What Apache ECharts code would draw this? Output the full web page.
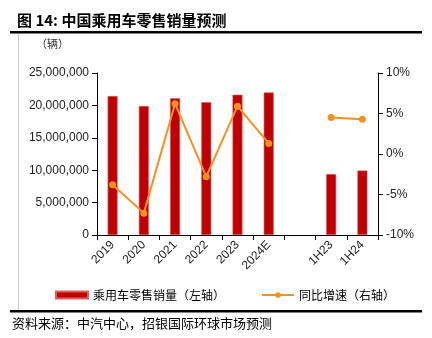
<!DOCTYPE html>
<html><head><meta charset="utf-8">
<script src="https://cdn.jsdelivr.net/npm/echarts@6/dist/echarts.min.js"></script>
<style>html,body{margin:0;padding:0;background:#fff}#c{width:432px;height:338px}</style>
</head><body><div id="c"></div>
<script>
const categories = ['2019','2020','2021','2022','2023','2024E','','1H23','1H24'];
const salesVolume = [21450000, 19900000, 21100000, 20500000, 21650000, 22000000, null, 9400000, 9950000];
const yoyGrowth = [-3.8, -7.3, 6.2, -2.8, 5.9, 1.3, null, 4.5, 4.3];
const leftTicks = [0, 5000000, 10000000, 15000000, 20000000, 25000000];
const rightTicks = [-10, -5, 0, 5, 10];

const chart = echarts.init(document.getElementById('c'));
const font = '"Noto Sans CJK SC", sans-serif';
const axisFont = 'Liberation Sans, Arial, sans-serif';
chart.setOption({
  animation: false,
  textStyle: {fontFamily: font},
  title: {text: '图 14: 中国乘用车零售销量预测', left: 12, top: 8,
    textStyle: {fontSize: 15, fontWeight: 'bold', color: '#000', fontFamily: font}},
  graphic: [
    {type: 'rect', shape: {x: 10, y: 31, width: 412, height: 2.5}, style: {fill: '#000'}},
    {type: 'rect', shape: {x: 10, y: 310, width: 412, height: 2.5}, style: {fill: '#000'}},
    {type: 'line', shape: {x1: 18.5, y1: 34, x2: 18.5, y2: 310}, style: {stroke: '#c8c8c8', lineWidth: 1}},
    {type: 'text', left: 36, top: 38, style: {text: '（辆）', fontSize: 11, fill: '#333', fontFamily: font}},
    {type: 'text', left: 12, top: 317, style: {text: '资料来源：中汽中心，招银国际环球市场预测', fontSize: 13, fill: '#000', fontFamily: font}}
  ],
  legend: {
    bottom: 32, left: 50, itemGap: 36, itemWidth: 32, itemHeight: 7,
    textStyle: {fontSize: 12, color: '#000', fontFamily: font},
    data: [{name: '乘用车零售销量（左轴）', icon: 'rect'}, {name: '同比增速（右轴）'}]
  },
  grid: {left: 97, right: 54, top: 73, bottom: 103},
  xAxis: {
    type: 'category', data: categories,
    axisLine: {lineStyle: {color: '#000', width: 1}},
    axisTick: {show: true, alignWithLabel: false, inside: false, length: 5, lineStyle: {color: '#000'}},
    axisLabel: {rotate: 45, fontSize: 12, color: '#222', fontFamily: axisFont, interval: 0, margin: 8}
  },
  yAxis: [
    {type: 'value', min: leftTicks[0], max: leftTicks[leftTicks.length-1], interval: 5000000,
      axisLine: {show: true, lineStyle: {color: '#000'}},
      axisTick: {show: true, length: 5, lineStyle: {color: '#000'}},
      splitLine: {show: false},
      axisLabel: {fontSize: 12, color: '#222', fontFamily: axisFont, margin: 8,
        formatter: v => v.toLocaleString('en-US')}},
    {type: 'value', min: rightTicks[0], max: rightTicks[rightTicks.length-1], interval: 5,
      axisLine: {show: true, lineStyle: {color: '#000'}},
      axisTick: {show: true, length: 5, lineStyle: {color: '#000'}},
      splitLine: {show: false},
      axisLabel: {fontSize: 12, color: '#222', fontFamily: axisFont, margin: 8,
        formatter: v => v + '%'}}
  ],
  series: [
    {name: '乘用车零售销量（左轴）', type: 'bar', data: salesVolume, yAxisIndex: 0,
      barWidth: 10, itemStyle: {color: '#C00000', borderColor: '#E06060', borderWidth: 0.6}},
    {name: '同比增速（右轴）', type: 'line', data: yoyGrowth, yAxisIndex: 1,
      connectNulls: false, symbol: 'circle', symbolSize: 7,
      lineStyle: {color: '#F7901E', width: 2}, itemStyle: {color: '#F7901E'}}
  ]
});
</script></body></html>
